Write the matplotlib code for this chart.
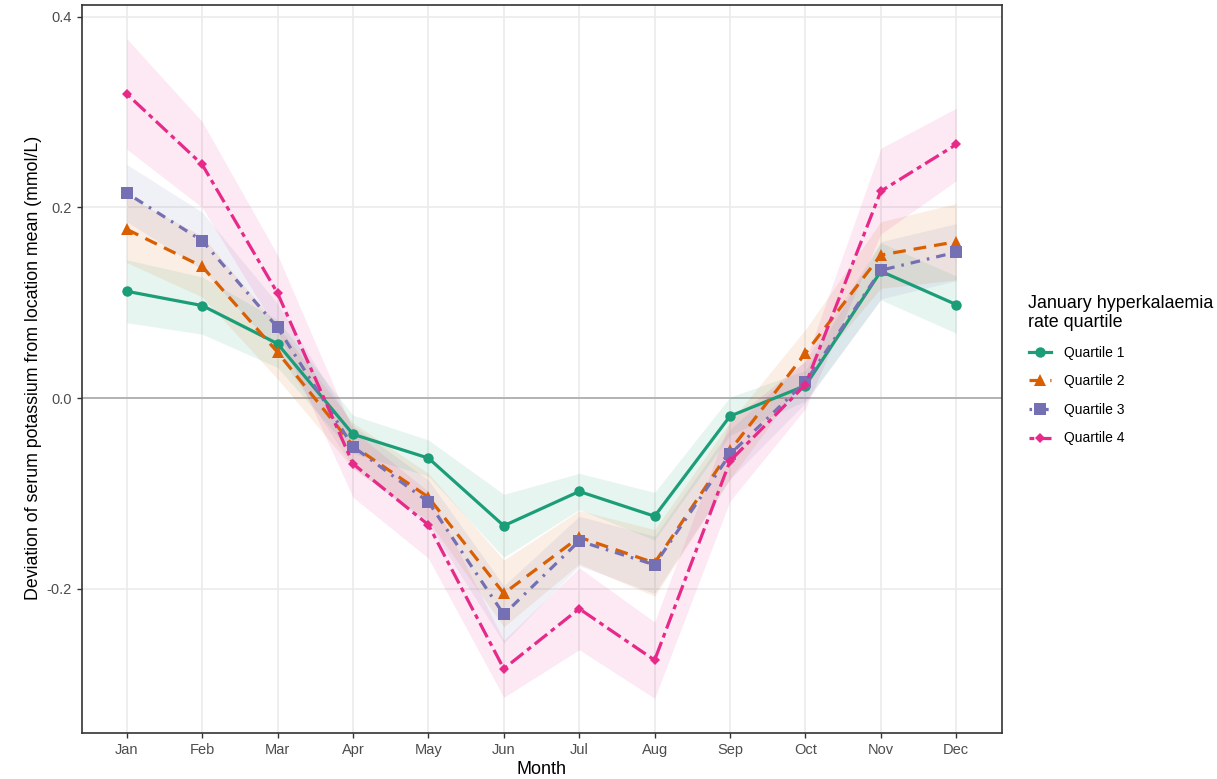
import matplotlib
matplotlib.use("Agg")
import matplotlib.pyplot as plt

plt.rcParams['font.family'] = ['Liberation Sans', 'DejaVu Sans']

months = ["Jan", "Feb", "Mar", "Apr", "May", "Jun", "Jul", "Aug", "Sep", "Oct", "Nov", "Dec"]
labels = ["Quartile 1", "Quartile 2", "Quartile 3", "Quartile 4"]

q1 = [0.112, 0.097, 0.057, -0.038, -0.063, -0.134, -0.098, -0.124, -0.019, 0.013, 0.133, 0.098]
q2 = [0.177, 0.138, 0.048, -0.050, -0.104, -0.205, -0.146, -0.173, -0.055, 0.047, 0.150, 0.164]
q3 = [0.215, 0.165, 0.074, -0.051, -0.109, -0.227, -0.150, -0.175, -0.059, 0.017, 0.134, 0.153]
q4 = [0.319, 0.245, 0.110, -0.069, -0.133, -0.284, -0.221, -0.275, -0.066, 0.014, 0.217, 0.266]

# half-widths of the confidence bands
q1_ci = [0.033, 0.030, 0.025, 0.020, 0.019, 0.033, 0.019, 0.025, 0.020, 0.016, 0.030, 0.030]
q2_ci = [0.035, 0.032, 0.028, 0.024, 0.025, 0.035, 0.028, 0.035, 0.030, 0.025, 0.035, 0.040]
q3_ci = [0.030, 0.030, 0.025, 0.022, 0.023, 0.030, 0.026, 0.030, 0.026, 0.022, 0.030, 0.030]
q4_ci = [0.058, 0.045, 0.040, 0.035, 0.035, 0.030, 0.043, 0.040, 0.042, 0.025, 0.045, 0.038]

series = [q1, q2, q3, q4]
cis = [q1_ci, q2_ci, q3_ci, q4_ci]
colors = ["#1B9E77", "#D95F02", "#7570B3", "#E7298A"]
markers = ["o", "^", "s", "D"]
msizes = [7.5, 9.0, 8.0, 5.0]
dashes = [None, (4, 2.5), (0.8, 2.2, 3, 2.2), (1.5, 1.5, 5, 1.5)]

fig = plt.figure(figsize=(12.17, 7.79), dpi=100)
ax = fig.add_axes([81.5 / 1217, 46 / 779, 920 / 1217, 728 / 779])

x = list(range(1, 13))

for vals, ci, c in zip(series, cis, colors):
    lo = [v - h for v, h in zip(vals, ci)]
    hi = [v + h for v, h in zip(vals, ci)]
    ax.fill_between(x, lo, hi, color=c, alpha=0.1, linewidth=0, zorder=2)

ax.axhline(0, color="#B3B3B3", linewidth=1.4, zorder=1.5)

handles = []
for vals, c, m, ms, d, lab in zip(series, colors, markers, msizes, dashes, labels):
    ln, = ax.plot(x, vals, color=c, linewidth=2.3, marker=m, markersize=ms,
                  markeredgewidth=0, zorder=3, label=lab)
    if d is not None:
        ln.set_dashes(d)
    handles.append(ln)

ax.set_xlim(0.4, 12.6)
ax.set_ylim(-0.3514, 0.4123)
ax.set_xticks(x)
ax.set_xticklabels(months)
ax.set_yticks([-0.2, 0.0, 0.2, 0.4])
ax.set_yticklabels(["-0.2", "0.0", "0.2", "0.4"])

ax.grid(True, color="#EBEBEB", linewidth=1.2, zorder=0)
ax.set_axisbelow(True)
for s in ax.spines.values():
    s.set_color("#333333")
    s.set_linewidth(1.2)
ax.tick_params(axis="both", colors="#333333", labelcolor="#4D4D4D",
               labelsize=10.5, length=3.5, width=1)

ax.set_xlabel("Month", fontsize=13, color="black", labelpad=3)
ax.set_ylabel("Deviation of serum potassium from location mean (mmol/L)",
              fontsize=12.8, color="black")
ax.yaxis.set_label_coords(-0.043, 0.502)

leg = fig.legend(handles=handles, labels=labels,
                 title="January hyperkalaemia\nrate quartile",
                 loc="upper left", bbox_to_anchor=(1016 / 1217, 1 - 282 / 779),
                 frameon=False, fontsize=10, title_fontsize=12.9,
                 handlelength=1.6, handletextpad=0.95, labelspacing=1.05,
                 alignment="left")

fig.savefig("out.png", dpi=100)
